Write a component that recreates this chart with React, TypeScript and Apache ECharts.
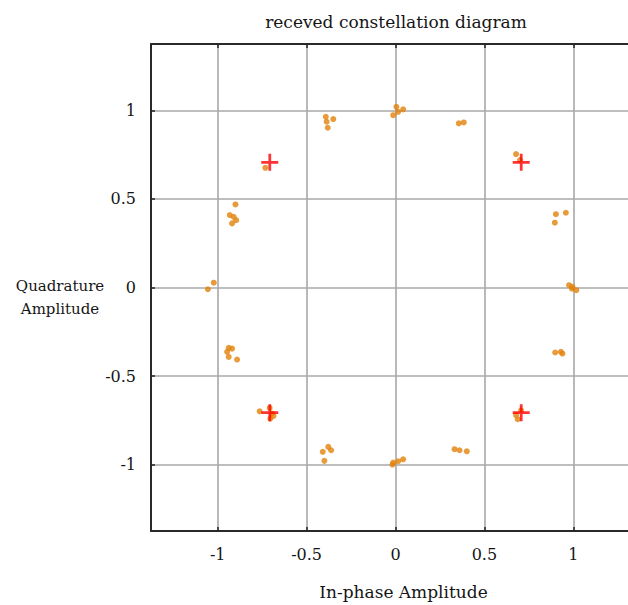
import React, { useEffect, useRef } from "react";
import * as echarts from "echarts";

// Received constellation samples (in-phase, quadrature)
const receivedI: number[] = [
  -0.392, -0.35, -0.387, -0.381,
  0.005, 0.043, -0.013, 0.015,
  0.356, 0.384,
  0.678, 0.7,
  -0.732,
  -0.9, -0.932, -0.91, -0.919, -0.896,
  0.902, 0.958, 0.896,
  -1.022, -1.055,
  0.976, 0.992, 1.017, 0.995,
  -0.938, -0.919, -0.947, -0.938, -0.891,
  0.898, 0.93, 0.939,
  -0.764, -0.708, -0.686, -0.704, -0.695,
  -0.409, -0.378, -0.362, -0.4,
  -0.013, 0.015, 0.043, -0.017,
  0.332, 0.36, 0.401,
  0.678, 0.687, 0.706,
];
const receivedQ: number[] = [
  0.964, 0.951, 0.936, 0.902,
  1.02, 1.006, 0.973, 0.992,
  0.927, 0.932,
  0.753, 0.72,
  0.676,
  0.469, 0.409, 0.399, 0.362, 0.38,
  0.414, 0.422, 0.366,
  0.027, -0.01,
  0.013, -0.006, -0.015, 0.004,
  -0.341, -0.345, -0.363, -0.392, -0.407,
  -0.367, -0.363, -0.373,
  -0.699, -0.68, -0.725, -0.74, -0.712,
  -0.928, -0.9, -0.919, -0.979,
  -0.989, -0.981, -0.97, -1.0,
  -0.913, -0.919, -0.925,
  -0.721, -0.744, -0.693,
];

// Ideal reference points
const idealI: number[] = [-0.707, 0.707, -0.707, 0.707];
const idealQ: number[] = [0.707, 0.707, -0.707, -0.707];

const titleText = "receved constellation diagram";
const xName = "In-phase Amplitude";
const yName = "Quadrature\nAmplitude";

const FONT = "DejaVu Serif";
const TEXT = "#151515";

export default function App() {
  const ref = useRef<HTMLDivElement>(null);

  useEffect(() => {
    if (!ref.current) return;
    const chart = echarts.init(ref.current, undefined, { renderer: "svg" });

    const received = receivedI.map((v, i) => [v, receivedQ[i]]);
    const ideal = idealI.map((v, i) => [v, idealQ[i]]);

    const axisCommon = {
      type: "value" as const,
      min: -1.375,
      max: 1.375,
      splitNumber: 5,
      axisLine: { show: true, onZero: false, lineStyle: { color: "#2a2a2a", width: 2 } },
      axisTick: { show: true, inside: true, length: 4, lineStyle: { color: "#222", width: 1.5 } },
      splitLine: { show: true, lineStyle: { color: "#a8a8a8", width: 1.6 } },
    };

    chart.setOption({
      animation: false,
      backgroundColor: "#ffffff",
      title: {
        text: titleText,
        left: 391,
        top: 8,
        textAlign: "center",
        textStyle: { fontFamily: FONT, fontSize: 17, fontWeight: "normal", color: TEXT },
      },
      grid: { left: 151, top: 44, width: 489, height: 487, show: false },
      xAxis: [
        {
          ...axisCommon,
          position: "bottom",
          name: xName,
          nameLocation: "middle",
          nameGap: 52,
          nameTextStyle: { fontFamily: FONT, fontSize: 17, color: TEXT, padding: [0, 0, 0, 16] },
          axisLabel: {
            fontFamily: FONT,
            fontSize: 16,
            color: TEXT,
            margin: 15,
            showMinLabel: false,
            showMaxLabel: false,
          },
        },
        {
          ...axisCommon,
          position: "top",
          axisLabel: { show: false },
          splitLine: { show: false },
        },
      ],
      yAxis: {
        ...axisCommon,
        axisLabel: {
          fontFamily: FONT,
          fontSize: 16,
          color: TEXT,
          margin: 15,
          showMinLabel: false,
          showMaxLabel: false,
        },
      },
      graphic: [
        {
          type: "text",
          x: 60,
          y: 297,
          style: {
            text: yName,
            fontFamily: FONT,
            fontSize: 15,
            fill: TEXT,
            align: "center",
            verticalAlign: "middle",
            lineHeight: 23,
          },
        },
      ],
      series: [
        {
          type: "scatter",
          xAxisIndex: 0,
          data: received,
          symbol: "circle",
          symbolSize: 6,
          itemStyle: { color: "#e2820a" },
        },
        {
          type: "scatter",
          xAxisIndex: 0,
          data: ideal,
          symbol: "path://M-1.3,-8H1.3V8H-1.3Z M-8,-1.3H8V1.3H-8Z",
          symbolSize: 17,
          itemStyle: { color: "#ff0000" },
        },
      ],
    });

    return () => chart.dispose();
  }, []);

  return (
    <div
      style={{
        position: "fixed",
        left: 0,
        top: 0,
        width: 628,
        height: 605,
        overflow: "hidden",
        background: "#fff",
      }}
    >
      <div ref={ref} style={{ width: 700, height: 605 }} />
    </div>
  );
}
